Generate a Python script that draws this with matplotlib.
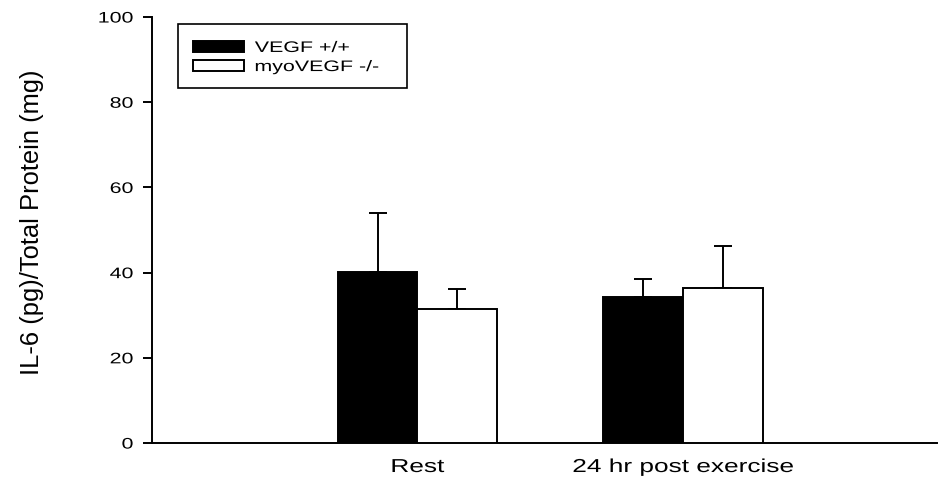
import matplotlib
matplotlib.use("Agg")
import matplotlib.pyplot as plt
from matplotlib.patches import Rectangle
from matplotlib.patheffects import AbstractPathEffect
from matplotlib.transforms import Affine2D
import numpy as np

# IL-6 per total protein, mean and upper SEM for each group
conditions = ["Rest", "24 hr post exercise"]
vegf_wt = [40.2, 34.3]
vegf_wt_err = [13.7, 4.3]
myo_ko = [31.4, 36.5]
myo_ko_err = [4.8, 9.7]


class Widen(AbstractPathEffect):
    "draws text stretched horizontally about one edge (or its centre)"

    def __init__(self, sx=1.4, anchor='center'):
        super().__init__()
        self.sx = sx
        self.anchor = anchor

    def draw_path(self, renderer, gc, tpath, affine, rgbFace=None):
        ext = tpath.get_extents(affine)
        x0 = {'left': ext.x0, 'center': 0.5 * (ext.x0 + ext.x1), 'right': ext.x1}[self.anchor]
        t = affine + Affine2D().translate(-x0, 0).scale(self.sx, 1).translate(x0, 0)
        renderer.draw_path(gc, tpath, t, rgbFace)


plt.rcParams['font.family'] = ['Liberation Sans', 'DejaVu Sans']

fig = plt.figure(figsize=(9.38, 4.8), dpi=100)
ax = fig.add_axes([0.162, 0.077, 0.837, 0.8875])

x = np.arange(1, len(conditions) + 1)
w = 0.30

ax.bar(x - w / 2, vegf_wt, w, color='black', edgecolor='black', linewidth=1.4,
       label='VEGF +/+', zorder=3)
ax.bar(x + w / 2, myo_ko, w, color='white', edgecolor='black', linewidth=1.4,
       label='myoVEGF -/-', zorder=3)

# one-sided (upper) error bars
ax.errorbar(x - w / 2, vegf_wt, yerr=[np.zeros(len(x)), vegf_wt_err], fmt='none',
            ecolor='black', elinewidth=1.4, capsize=6.5, capthick=1.4, zorder=2)
ax.errorbar(x + w / 2, myo_ko, yerr=[np.zeros(len(x)), myo_ko_err], fmt='none',
            ecolor='black', elinewidth=1.4, capsize=6.5, capthick=1.4, zorder=2)

ax.set_xlim(0, 2.957)
ax.set_ylim(0, 100)
ax.set_yticks(np.arange(0, 101, 20))
ax.set_xticks(x)
ax.set_xticklabels(conditions)
ax.tick_params(axis='y', direction='out', length=6.5, width=1.4, labelsize=11, pad=7)
ax.tick_params(axis='x', length=0, labelsize=13.5, pad=11.5)

for s in ['top', 'right']:
    ax.spines[s].set_visible(False)
for s in ['left', 'bottom']:
    ax.spines[s].set_linewidth(1.4)

ax.set_ylabel('IL-6 (pg)/Total Protein (mg)', fontsize=18.4)
ax.yaxis.set_label_coords(-0.138, 0.519)

# legend box drawn on its own, entries placed inside it
ax.add_patch(Rectangle((0.0331, 0.8333), 0.2917, 0.1503, transform=ax.transAxes,
                       facecolor='white', edgecolor='black', linewidth=1.2,
                       zorder=4, clip_on=False))
leg = ax.legend(loc='upper left', bbox_to_anchor=(0.0522, 0.944), fontsize=11,
                frameon=False, handlelength=3.33, handleheight=0.78,
                labelspacing=0.33, borderpad=0, handletextpad=0.72,
                borderaxespad=0)
leg.set_zorder(5)

for t in leg.get_texts():
    t.set_path_effects([Widen(1.4, 'left')])
for t in ax.get_xticklabels():
    t.set_path_effects([Widen(1.4, 'center')])
for t in ax.get_yticklabels():
    t.set_path_effects([Widen(1.4, 'right')])

fig.savefig('out.png', dpi=100)
